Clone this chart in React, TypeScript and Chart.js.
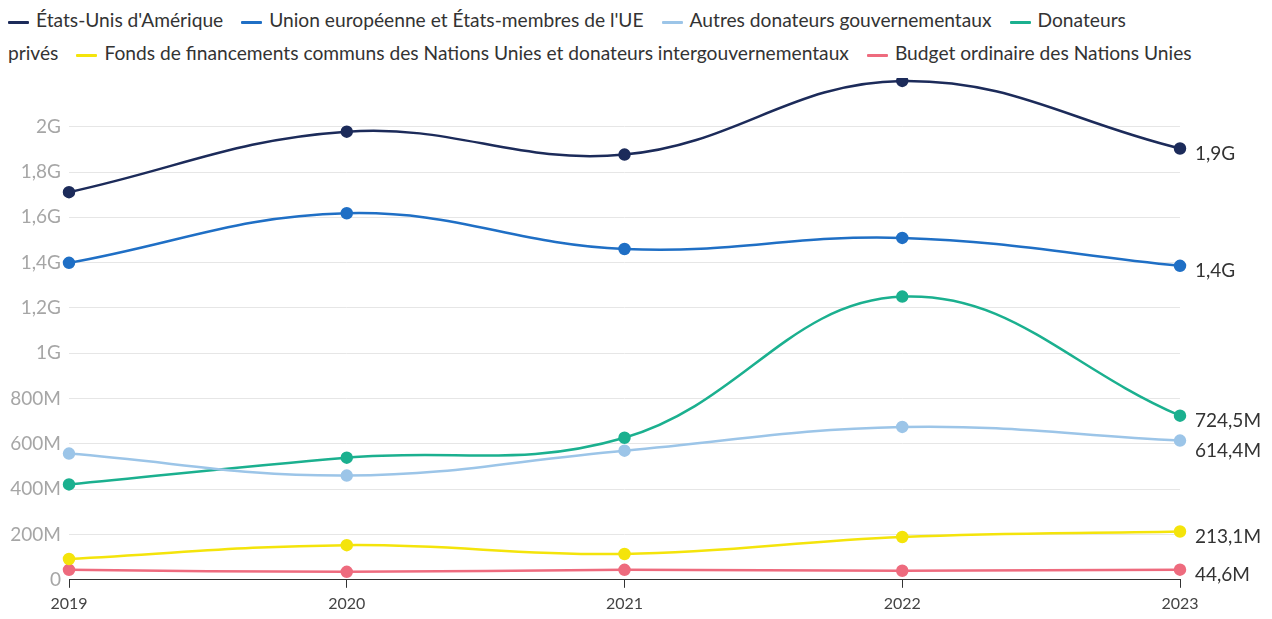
import React, { useEffect, useRef } from "react";
import { Chart, registerables } from "chart.js";

Chart.register(...registerables);

const years = ["2019", "2020", "2021", "2022", "2023"];
const seriesNames = [
  "États-Unis d'Amérique",
  "Union européenne et États-membres de l'UE",
  "Autres donateurs gouvernementaux",
  "Donateurs privés",
  "Fonds de financements communs des Nations Unies et donateurs intergouvernementaux",
  "Budget ordinaire des Nations Unies",
];
const usa = [1.711e9, 1.978e9, 1.877e9, 2.202e9, 1.904e9];
const eu = [1.399e9, 1.618e9, 1.46e9, 1.509e9, 1.386e9];
const otherGov = [557e6, 460e6, 570e6, 675e6, 614.4e6];
const privateDonors = [421e6, 539e6, 627e6, 1.25e9, 724.5e6];
const pooledFunds = [92e6, 153e6, 114e6, 189e6, 213.1e6];
const regularBudget = [44e6, 35e6, 44e6, 40e6, 44.6e6];
const endLabels = ["1,9G", "1,4G", "614,4M", "724,5M", "213,1M", "44,6M"];
const yTickValues = [0, 2e8, 4e8, 6e8, 8e8, 1e9, 1.2e9, 1.4e9, 1.6e9, 1.8e9, 2e9];
const yTickLabels = ["0", "200M", "400M", "600M", "800M", "1G", "1,2G", "1,4G", "1,6G", "1,8G", "2G"];
const colors = ["#1c2b5a", "#1f6fc5", "#9cc5e8", "#1bb08f", "#f4e40b", "#ee6b7e"];

const FONT = "Lato, 'Open Sans', sans-serif";

const endLabelPlugin = {
  id: "endLabels",
  afterDatasetsDraw(chart: any) {
    const ctx = chart.ctx;
    ctx.save();
    ctx.font = `19px ${FONT}`;
    ctx.fillStyle = "#333";
    ctx.textBaseline = "middle";
    ctx.textAlign = "left";
    const items: { x: number; y: number; t: string }[] = [];
    chart.data.datasets.forEach((ds: any, i: number) => {
      const meta = chart.getDatasetMeta(i);
      const pt = meta.data[meta.data.length - 1];
      items.push({ x: pt.x + 15, y: pt.y + 5, t: endLabels[i] });
    });
    items.sort((a, b) => a.y - b.y);
    for (let i = 1; i < items.length; i++) {
      if (items[i].y - items[i - 1].y < 30) items[i].y = items[i - 1].y + 30;
    }
    items.forEach((it) => ctx.fillText(it.t, it.x, it.y));
    ctx.restore();
  },
};

function LegendText({ text, wrap }: { text: string; wrap: boolean }) {
  if (!wrap) return <span>{text}</span>;
  const k = text.indexOf(" ");
  return (
    <>
      <span>{text.slice(0, k)}</span>
      <span style={{ whiteSpace: "normal" }}> </span>
      <span>{text.slice(k + 1)}</span>
    </>
  );
}

export default function App() {
  const ref = useRef<HTMLCanvasElement>(null);
  useEffect(() => {
    const series = [usa, eu, otherGov, privateDonors, pooledFunds, regularBudget];
    const chart = new Chart(ref.current!, {
      type: "line",
      data: {
        labels: years,
        datasets: series.map((d, i) => ({
          label: seriesNames[i],
          data: d,
          borderColor: colors[i],
          backgroundColor: colors[i],
          borderWidth: 2.5,
          pointRadius: 5,
          pointHoverRadius: 5,
          tension: 0.4,
          fill: false,
        })),
      },
      options: {
        animation: false,
        responsive: true,
        maintainAspectRatio: false,
        layout: { padding: { top: 8, right: 84, left: 0, bottom: 0 } },
        plugins: { legend: { display: false }, tooltip: { enabled: false } },
        scales: {
          x: {
            grid: { drawOnChartArea: false, drawTicks: true, tickLength: 8, color: "#333" },
            border: { color: "#333", width: 1 },
            ticks: { color: "#444", font: { family: FONT, size: 16 }, padding: 6 },
          },
          y: {
            min: 0,
            max: 2.215e9,
            afterBuildTicks: (scale: any) => {
              scale.ticks = yTickValues.map((v) => ({ value: v }));
            },
            afterFit: (scale: any) => {
              scale.width = 61;
              scale.paddingTop = 0;
              scale.paddingBottom = 0;
            },
            grid: { color: "#e6e6e6", drawTicks: false },
            border: { display: false },
            ticks: {
              color: "#a6a6a6",
              padding: 8,
              font: { family: FONT, size: 19 },
              callback: (v: any) => {
                const idx = yTickValues.indexOf(Number(v));
                return idx >= 0 ? yTickLabels[idx] : "";
              },
            },
          },
        },
      },
      plugins: [endLabelPlugin],
    });
    return () => chart.destroy();
  }, []);

  return (
    <div style={{ position: "relative", width: 1256, height: 603, fontFamily: FONT }}>
      <div
        style={{
          position: "absolute",
          top: -5,
          left: 0,
          width: 1152,
          fontSize: 19.2,
          lineHeight: "33px",
          color: "#333",
          whiteSpace: "nowrap",
        }}
      >
        {seriesNames.map((n, i) => (
          <span key={n} style={{ marginRight: 18 }}>
            <span
              style={{
                display: "inline-block",
                width: 21,
                height: 3,
                background: colors[i],
                verticalAlign: "middle",
                marginRight: 7,
                borderRadius: 1,
              }}
            />
            <LegendText text={n} wrap={i === 3} />
          </span>
        ))}
      </div>
      <div style={{ position: "absolute", top: 62, left: 0, width: 1256, height: 549 }}>
        <canvas ref={ref} />
      </div>
    </div>
  );
}
